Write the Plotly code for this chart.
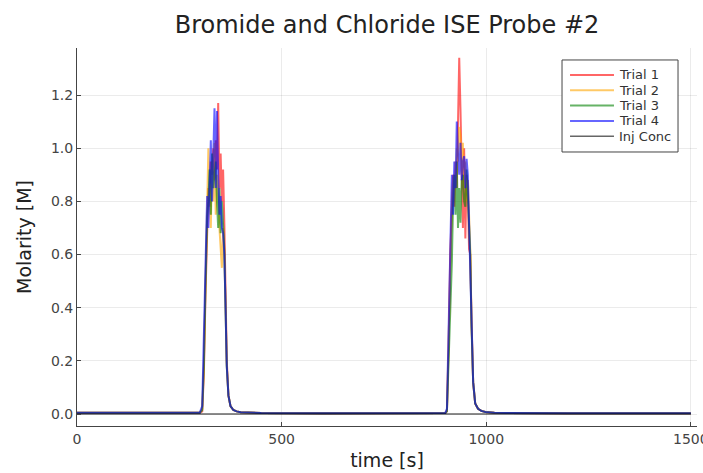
import plotly.graph_objects as go

# time points [s]
time = [0, 300, 306, 310, 314, 318, 321, 324, 327, 330, 333, 336, 339, 342, 345, 348, 351, 354, 357, 360,
        363, 366, 370, 375, 382, 390, 400, 420, 450, 600,
        880, 900, 904, 908, 912, 916, 919, 922, 925, 928, 931, 934, 937, 940, 943, 946, 949, 952, 955, 958,
        961, 964, 968, 973, 980, 988, 998, 1020, 1050, 1200, 1500]

trial1 = [0.005, 0.005, 0.01, 0.15, 0.45, 0.72, 0.85, 0.78, 0.95, 0.90, 1.00, 0.88, 1.03, 0.92, 1.17, 0.85, 0.98, 0.80, 0.92, 0.72,
          0.45, 0.20, 0.07, 0.03, 0.015, 0.010, 0.007, 0.005, 0.004, 0.003,
          0.003, 0.004, 0.01, 0.25, 0.60, 0.82, 0.90, 0.78, 0.95, 0.85, 1.05, 1.34, 1.15, 0.95, 0.70, 1.00, 0.66, 0.90, 0.85, 0.62,
          0.60, 0.35, 0.12, 0.04, 0.02, 0.012, 0.008, 0.005, 0.004, 0.003, 0.003]

trial2 = [0.005, 0.005, 0.02, 0.20, 0.50, 0.75, 1.00, 0.82, 0.70, 0.95, 0.80, 1.02, 0.75, 0.90, 0.85, 0.70, 0.60, 0.55, 0.70, 0.60,
          0.40, 0.18, 0.07, 0.03, 0.015, 0.010, 0.007, 0.005, 0.004, 0.003,
          0.003, 0.004, 0.015, 0.30, 0.62, 0.80, 0.88, 0.90, 0.85, 1.00, 0.95, 1.08, 1.05, 0.90, 1.02, 0.85, 0.95, 0.80, 0.88, 0.75,
          0.62, 0.35, 0.12, 0.04, 0.02, 0.012, 0.008, 0.005, 0.004, 0.003, 0.003]

trial3 = [0.005, 0.005, 0.015, 0.18, 0.48, 0.74, 0.80, 0.92, 0.75, 0.98, 0.85, 0.90, 0.95, 0.80, 0.70, 0.85, 0.68, 0.80, 0.70, 0.62,
          0.40, 0.18, 0.07, 0.03, 0.015, 0.010, 0.007, 0.005, 0.004, 0.003,
          0.003, 0.004, 0.01, 0.20, 0.35, 0.57, 0.80, 0.90, 0.75, 0.95, 0.70, 0.85, 0.72, 0.88, 0.90, 0.80, 0.78, 0.92, 0.82, 0.72,
          0.60, 0.33, 0.12, 0.04, 0.02, 0.012, 0.008, 0.005, 0.004, 0.003, 0.003]

trial4 = [0.005, 0.005, 0.03, 0.30, 0.65, 0.82, 0.70, 0.85, 1.03, 0.80, 0.95, 1.15, 0.85, 1.14, 0.90, 0.75, 0.82, 0.70, 0.68, 0.60,
          0.40, 0.18, 0.07, 0.03, 0.015, 0.010, 0.007, 0.005, 0.004, 0.003,
          0.003, 0.004, 0.02, 0.35, 0.70, 0.90, 0.75, 0.95, 0.85, 1.10, 0.98, 0.90, 1.02, 0.88, 0.95, 0.97, 0.85, 0.96, 0.90, 0.72,
          0.60, 0.33, 0.12, 0.04, 0.02, 0.012, 0.008, 0.005, 0.004, 0.003, 0.003]

inj_time = [0, 1500]
inj_conc = [0.0, 0.0]

x_ticks = [0, 500, 1000, 1500]
y_ticks = [0.0, 0.2, 0.4, 0.6, 0.8, 1.0, 1.2]

series = [
    ("Trial 1", time, trial1, "rgba(255,0,0,0.6)", 2),
    ("Trial 2", time, trial2, "rgba(255,165,0,0.6)", 2),
    ("Trial 3", time, trial3, "rgba(0,128,0,0.6)", 2),
    ("Trial 4", time, trial4, "rgba(0,0,255,0.6)", 2),
    ("Inj Conc", inj_time, inj_conc, "rgba(0,0,0,0.6)", 1.5),
]

fig = go.Figure()
for name, xs, vals, col, w in series:
    fig.add_trace(go.Scatter(x=xs, y=vals, mode="lines", name=name,
                             line=dict(color=col, width=w), showlegend=False))

# Legend box drawn in paper coordinates (compact GR-style legend)
L_X0, L_X1, L_Y0, L_Y1 = 0.7823, 0.9694, 0.7249, 0.9683
fig.add_shape(type="rect", xref="paper", yref="paper", x0=L_X0, x1=L_X1, y0=L_Y0, y1=L_Y1,
              line=dict(color="#444444", width=1), fillcolor="white", layer="above")
entry_top = 0.9286
entry_step = 0.0405
for i, (name, _, _, col, w) in enumerate(series):
    yy = entry_top - i * entry_step
    fig.add_shape(type="line", xref="paper", yref="paper", x0=0.7952, x1=0.8661, y0=yy, y1=yy,
                  line=dict(color=col, width=w), layer="above")
    fig.add_annotation(xref="paper", yref="paper", x=0.871, y=yy, text=name, showarrow=False,
                       xanchor="left", yanchor="middle", font=dict(size=13, color="#333333"))

axis_common = dict(
    showline=True, linecolor="#444444", linewidth=1,
    ticks="inside", ticklen=4, tickcolor="#444444",
    showgrid=True, gridcolor="rgba(0,0,0,0.08)", gridwidth=1,
    zeroline=False, mirror=False, automargin=False,
    tickfont=dict(size=14, color="#444444"),
)

fig.update_layout(
    width=703, height=473,
    margin=dict(l=77, r=6, t=48, b=47),
    plot_bgcolor="white", paper_bgcolor="white",
    font=dict(family="DejaVu Sans", color="#222222"),
    title=dict(text="Bromide and Chloride ISE Probe #2", x=0.5, xref="paper",
               y=1 - 25 / 473, yref="container", yanchor="middle",
               font=dict(size=24, color="#222222")),
    xaxis=dict(range=[0, 1515], tickvals=x_ticks,
               ticktext=[str(v) for v in x_ticks], ticklabeloverflow="allow",
               title=dict(text="time [s]", font=dict(size=19), standoff=7),
               **axis_common),
    yaxis=dict(range=[-0.045, 1.377], tickvals=y_ticks,
               ticktext=[f"{v:.1f}" for v in y_ticks],
               title=dict(text="Molarity [M]", font=dict(size=19), standoff=14),
               **axis_common),
    showlegend=False,
)

fig.write_html("out.html")
